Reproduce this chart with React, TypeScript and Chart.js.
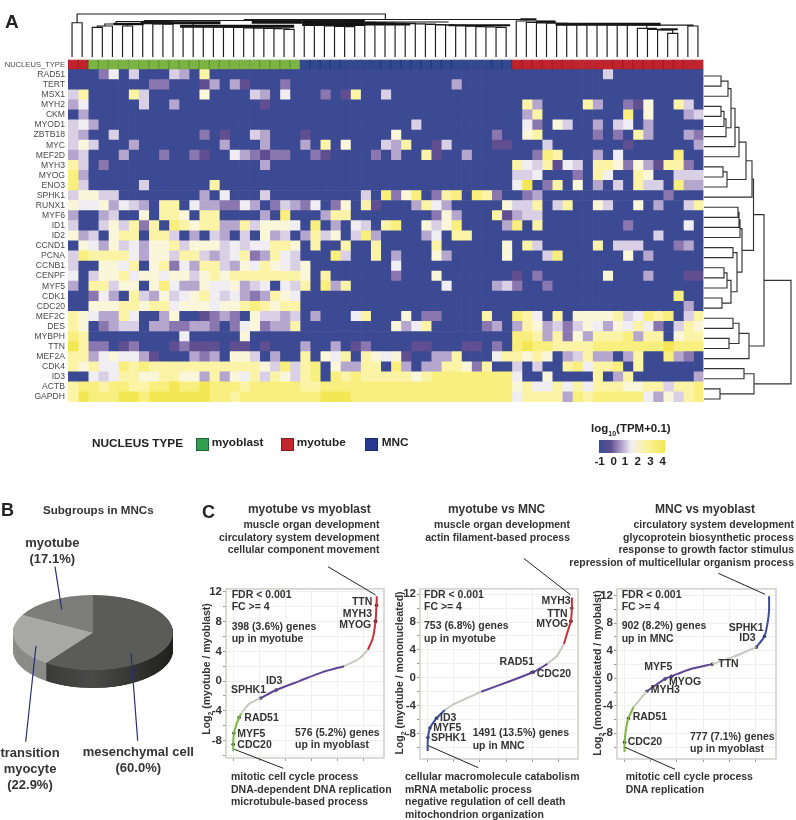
import React, { useEffect, useRef } from "react";
import { Chart, registerables } from "chart.js";
Chart.register(...registerables);

const FONT = "'Liberation Sans', Arial, sans-serif";

const genes = ["RAD51","TERT","MSX1","MYH2","CKM","MYOD1","ZBTB18","MYC","MEF2D","MYH3","MYOG","ENO3","SPHK1","RUNX1","MYF6","ID1","ID2","CCND1","PCNA","CCNB1","CENPF","MYF5","CDK1","CDC20","MEF2C","DES","MYBPH","TTN","MEF2A","CDK4","ID3","ACTB","GAPDH"];

// one string per gene, one digit per nucleus: colour level of log10(TPM+0.1)
const heatLevels = [
  "0002504000 4307000000 0000000000 0000000000 0000000000 0004000000 000",
  "0000000022 0001303100 0200000000 0000000030 0000000000 0000000000 000",
  "4700007400 0006000043 0500020170 0400000000 0000000000 0000000000 000",
  "3500000400 3000000001 0000000000 0000000000 0000073000 0730021600 740",
  "0300000000 0000000000 0000000000 0000000000 0000037000 0000080600 034",
  "4530000000 0000000000 0000000000 0000400000 0000052064 0030450300 000",
  "4300400000 0002010043 0001000000 0060000000 0020067000 0020207300 032",
  "4640003000 0000030003 0003070600 0437001400 0011000400 0000010000 003",
  "3400030002 0021005321 2200210000 2030071003 0000002870 0030500000 800",
  "7402000000 0000000003 0000000000 0000000000 0000754715 4077626317 720",
  "8300000000 0000000000 0000000000 0000000000 0000445000 2075007600 444",
  "8400000400 0000700000 0000000000 0000000000 0000590270 6030407440 833",
  "4664400000 0003050004 0000000004 0826802780 8720023000 0000000002 000",
  "6556354307 7053322530 2432502607 1000375300 0006447047 0064006030 047",
  "3003400607 7607700003 0800037700 0000002630 0071344000 0000000000 000",
  "4004647270 8767733746 6650803054 0780064680 0003807000 0000020000 050",
  "6340677077 4030430406 3403746048 3000035077 0000000000 0000000040 000",
  "0653645366 7466645455 7760700700 7000007000 0006074000 0070444000 230",
  "4877775366 4774345723 7540008400 7030006300 0006000480 0000060300 000",
  "4006657067 2537743657 6546000000 0050000000 0000000000 0000000000 000",
  "5046675665 6646767777 7776070000 0020006000 0000102000 0006000300 011",
  "3077466068 5336556345 0547083700 0000000500 0034200200 0000000000 000",
  "0025307436 4567545323 7650000000 0000000000 0000000000 0000000000 800",
  "0066677677 5666566787 6770000000 0000000000 0000000000 0000000000 030",
  "7653375003 6001232064 4340300057 0006022000 0700875070 6666745878 047",
  "7602344033 2233202562 3370000000 0063570000 0230376342 4653657520 476",
  "8700000000 0500000600 0000000000 0000000000 0000887372 6377783770 677",
  "9722012000 1211101101 0003003012 0000110001 1020898877 7788888889 888",
  "7735655310 0032306640 3007065707 6561003370 0057767603 4733037008 320",
  "7675587877 7777777776 4847806337 7083033776 2700404007 8577807000 000",
  "0054577667 7663736574 7647808787 7777678888 8888500600 0070370000 003",
  "7887887788 9889888788 8887788888 8888888888 8888675575 7577766774 778",
  "7988899899 9999887888 8888899988 8888888888 8888577773 8788888536 478",
];
const heatPalette = ["#3B4A92","#5F4F91","#8B77B0","#B5A6CE","#D9D0E6","#F0EDF3","#FAF6DA","#FBF3A6","#F8EF7E","#F3E753"];

const nucleusGroups = [["myotube",2],["myoblast",21],["MNC",21],["myotube",19]];
const nucleusColors = { myotube: "#C0232B", myoblast: "#7DB342", MNC: "#33478F" };
const nucleusEdges = { myotube: "#A41F27", myoblast: "#5F9A3A", MNC: "#283A7C" };

// dendrograms: [height, left, right]; a plain number is a leaf index
const topTree = [43,
  [34.3, 0, 1],
  [37.5,
    [36.5,
      [35.5,
        [33, [31, [29.7, 2, 3], 4], [31, 5, 6]],
        [34.7,
          [33.5, 7, [33, 8, [32.8, 9, 10]]],
          [31, 11, [30.8, 12, [30.4, 13, [30.1, 14, [29.8, 15, [29.5, 16, [29.2, 17, [28.9, 18, [28.6, 19, [28.3, 20, [27.7, 21, 22]]]]]]]]]]],
        ],
      ],
      [34.6,
        [33, 23, [31.5, 24, [31, 25, [30.7, 26, [30.4, 27, 28]]]]],
        [34.4, 29, [34.2, 30, [33.9, 31, [33.6, 32, [33.3, 33, [33, 34, [32.5, 35, [32.2, 36, [31.8, 37, [31.3, 38, [30.8, 39, [30.3, 40, [30, 41, [29.7, 42, 43]]]]]]]]]]]]]],
      ],
    ],
    [36, 44, [34.5, 45, [34, 46, [33.8, 47, [33.5, 48, [33.2, 49, [33, 50, [32.8, 51, [32.6, 52, [32.4, 53, [32.2, 54, [32, 55,
      [31.9, [28.7, 56, [27.7, 57, [27, 58, [23.7, 59, 60]]]], [31, 61, 62]]
    ]]]]]]]]]]]],
  ],
];
// the dense, merged merge-bars of the column tree: [from, to, height, thickness, colour]
const topBands = [
  [4.6, 7.6, 33, 2.5, "#111"],
  [7.3, 15.2, 34.3, 3, "#111"],
  [11.2, 22.5, 30.7, 3, "#111"],
  [18.3, 23.3, 35, 3.5, "#111"],
  [23.3, 29.5, 34.3, 6.5, "#111"],
  [29.5, 37.8, 35, 2, "#888"],
  [29.5, 34, 33, 3, "#111"],
  [37.8, 43.9, 31.7, 2, "#111"],
  [44.9, 46.5, 37.7, 2, "#111"],
  [46.5, 48.4, 35.3, 2.5, "#111"],
  [48.4, 58.8, 32.7, 3, "#111"],
  [58.8, 60.5, 27.7, 2, "#111"],
];
const rowTree = [87,
  [60,
    [49.5,
      [48,
        [42,
          [35, [31, [27, [24, [17, 0, 1], 2], [22, [20, [17, 3, 4], 5], 6]], 7], 8],
          [23, [19, 9, 10], 11],
        ],
        12,
      ],
      [38,
        [36, [35, [34, 13, 14], 15], 16],
        [33, [29, 17, 18], [27, [23, [20, 19, 20], 21], [18, 22, 23]]],
      ],
    ],
    [45, [35, [29, 24, 25], [25, 26, 27]], 28],
  ],
  [50, [40, 29, 30], [16, 31, 32]],
];

const pieLabels = ["mesenchymal cell", "transition myocyte", "myotube"];
const pieValues = [60.0, 22.9, 17.1];
const pieColors = ["#5B5B57", "#A8A8A4", "#7C7C78"];
const grey = "#C9C8C3", green = "#7CB544", purple = "#5E4596", red = "#C4313A", blue = "#3B4C9E";

// ranked fold-change curves: [rank, log2 ratio]
const c1Green = [[0,-9.4],[0,-8.5],[50,-7],[250,-5.8],[450,-4.9],[600,-4.4]];
const c1GreyA = [[600,-4.4],[890,-3.7],[1270,-3],[2076,-2.3]];
const c1Purple = [[2076,-2.3],[3290,-1.2],[5060,0],[6835,1.2],[8480,2]];
const c1GreyB = [[8480,2],[9620,3],[10300,4.2]];
const c1Red = [[10300,4.2],[10680,5.8],[10885,8],[10960,10.2],[10985,11.4]];
const c1Genes = [[0,-8.5],[50,-7],[450,-4.9],[2076,-2.3],[3290,-1.2],[10885,8],[10890,8.1],[10960,10.2]];

const c2Blue = [[0,-10.5],[0,-9.7],[25,-8.55],[175,-7.2],[680,-5.8],[1316,-4.6]];
const c2GreyA = [[1316,-4.6],[2075,-3.7],[4100,-2]];
const c2Purple = [[4100,-2],[6125,-0.6],[8100,0.83],[9165,2]];
const c2GreyB = [[9165,2],[9925,3.2],[10430,4.85]];
const c2Red = [[10430,4.85],[10810,7.2],[10965,8.1],[11040,10],[11040,11.5]];
const c2Genes = [[25,-8.55],[175,-7.2],[680,-5.8],[8100,0.83],[7950,0.75],[10965,8.1],[10965,8.15],[11040,10]];

const c3Green = [[0,-10.7],[0,-9.3],[125,-7.2],[300,-5.8],[680,-4.2]];
const c3GreyA = [[680,-4.2],[1700,-1.9]];
const c3Purple = [[1700,-1.9],[3090,-0.1],[3600,0.3],[5000,1.3],[6700,2.05]];
const c3GreyB = [[6700,2.05],[8285,3.1],[10060,4.5]];
const c3Blue = [[10060,4.5],[10690,6.1],[10940,8.2],[11040,9.9],[11040,11.9]];
const c3Genes = [[0,-9.3],[300,-5.8],[1700,-1.9],[3090,-0.1],[3600,0.3],[6700,2.05],[10060,4.5],[10690,6.1]];

const yTickValues = [-10,-8,-6,-4,-2,0,2,4,6,8,10,12];
const xTickValues = [0,2000,4000,6000,8000,10000];

function ChartCanvas({ config, left, top, width, height, style }: any) {
  const ref = useRef<HTMLCanvasElement>(null);
  useEffect(() => {
    const ch = new Chart(ref.current as any, config());
    return () => ch.destroy();
  }, []);
  return <canvas ref={ref} width={width} height={height} style={{ position: "absolute", left, top, width, height, display: "block", ...style }} />;
}

function heatConfig() {
  const rows = heatLevels.map((s) => s.replace(/ /g, "").split("").map(Number));
  const nuc: string[] = [];
  nucleusGroups.forEach(([n, c]: any) => { for (let i = 0; i < c; i++) nuc.push(n); });
  const labels = ["NUCLEUS_TYPE", ...genes];
  const datasets = nuc.map((n, c) => {
    const cols = rows.map((r) => heatPalette[r[c]]);
    return {
      data: labels.map(() => 1),
      backgroundColor: [nucleusColors[n], ...cols],
      borderColor: [nucleusEdges[n], ...cols],
      borderWidth: [1, ...rows.map(() => 0)],
      borderSkipped: false,
      barPercentage: 1,
      categoryPercentage: 1,
    };
  });
  return {
    type: "bar",
    data: { labels, datasets },
    options: {
      indexAxis: "y",
      responsive: false,
      animation: false,
      layout: { padding: { top: 59.5, right: 92.5, bottom: 18, left: 0 } },
      plugins: { legend: { display: false }, tooltip: { enabled: false } },
      scales: {
        x: { stacked: true, min: 0, max: 63, display: false },
        y: {
          stacked: true,
          grid: { display: false, drawTicks: false },
          border: { display: false },
          afterFit: (a: any) => { a.width = 68; },
          ticks: {
            autoSkip: false,
            padding: 3,
            color: "#4A4A4A",
            font: (ctx: any) => ({ family: FONT, size: ctx.index === 0 ? 7.6 : 8.6 }),
          },
        },
      },
    },
  };
}

function treeSegments(tree: any, leafOffset: number, swap: boolean) {
  const pts: any[] = [];
  const add = (pos: number, h: number) => pts.push(swap ? { x: h, y: pos } : { x: pos, y: h });
  const walk = (n: any): any => {
    if (typeof n === "number") return { pos: n + leafOffset, h: 0 };
    const a = walk(n[1]), b = walk(n[2]), h = n[0];
    add(a.pos, a.h); add(a.pos, h); add(b.pos, h); add(b.pos, b.h);
    pts.push({ x: NaN, y: NaN });
    return { pos: (a.pos + b.pos) / 2, h };
  };
  walk(tree);
  return pts;
}

function treeConfig(tree: any, leafOffset: number, swap: boolean, xr: number[], yr: number[], reverseY: boolean, color: string, bands: any[]) {
  return () => ({
    type: "scatter",
    data: {
      datasets: [
        { data: treeSegments(tree, leafOffset, swap), showLine: true, spanGaps: false, borderColor: color, borderWidth: 1.15, pointRadius: 0, clip: false },
        ...bands.map(([a, b, h, w, c]: any) => ({ data: [{ x: a, y: h }, { x: b, y: h }], showLine: true, borderColor: c, borderWidth: w, pointRadius: 0, clip: false })),
      ],
    },
    options: {
      responsive: false, animation: false,
      layout: { padding: 0 },
      plugins: { legend: { display: false }, tooltip: { enabled: false } },
      scales: {
        x: { type: "linear", min: xr[0], max: xr[1], display: false },
        y: { type: "linear", min: yr[0], max: yr[1], reverse: reverseY, display: false },
      },
    },
  });
}

function pieConfig() {
  const depth = 38;
  const sidePlugin = {
    id: "pieSide",
    beforeDatasetsDraw(chart: any) {
      const { ctx } = chart;
      const arcs = chart.getDatasetMeta(0).data;
      const a0 = arcs[0];
      const g = ctx.createLinearGradient(a0.x - a0.outerRadius, 0, a0.x + a0.outerRadius, 0);
      g.addColorStop(0, "#2E2E2C"); g.addColorStop(0.5, "#4A4A47"); g.addColorStop(0.85, "#2C2C2A"); g.addColorStop(1, "#1F1F1E");
      const sides = [g, "#8B8B87", "#5F5F5C"];
      ctx.save();
      for (let d = depth; d >= 1; d--) {
        arcs.forEach((arc: any, i: number) => {
          ctx.beginPath();
          ctx.moveTo(arc.x, arc.y + d);
          ctx.arc(arc.x, arc.y + d, arc.outerRadius, arc.startAngle, arc.endAngle);
          ctx.closePath();
          ctx.fillStyle = sides[i];
          ctx.fill();
        });
      }
      ctx.restore();
    },
  };
  return {
    type: "pie",
    data: { labels: pieLabels, datasets: [{ data: pieValues, backgroundColor: pieColors, borderWidth: 0 }] },
    options: {
      responsive: false, animation: false,
      layout: { padding: { bottom: 80 } },
      plugins: { legend: { display: false }, tooltip: { enabled: false } },
    },
    plugins: [sidePlugin],
  };
}

function curveConfig(segs: any[], pts: any[], xr: number[], yr: number[]) {
  return () => {
    const boxPlugin = {
      id: "box",
      afterDatasetsDraw(chart: any) {
        const { ctx, chartArea: c } = chart;
        ctx.save();
        ctx.strokeStyle = "#CFCEC9";
        ctx.lineWidth = 1.5;
        ctx.strokeRect(c.left, c.top, c.right - c.left, c.bottom - c.top);
        ctx.restore();
      },
    };
    return {
      type: "scatter",
      data: {
        datasets: [
          ...segs.map(([d, col]: any) => ({
            data: d.map(([x, y]: number[]) => ({ x, y })),
            showLine: true, borderColor: col, borderWidth: 2, tension: 0.25, pointRadius: 0,
          })),
          { data: pts.map(([x, y]: number[]) => ({ x, y })), showLine: false, pointRadius: 1.7, pointBackgroundColor: "#111", pointBorderWidth: 0 },
        ],
      },
      options: {
        responsive: false, animation: false,
        layout: { padding: { top: 2, right: 3, left: 0, bottom: 0 } },
        plugins: { legend: { display: false }, tooltip: { enabled: false } },
        scales: {
          x: {
            type: "linear", min: xr[0], max: xr[1],
            afterBuildTicks: (a: any) => { a.ticks = xTickValues.map((value) => ({ value })); },
            afterFit: (a: any) => { a.height = 8; },
            grid: { color: "#F0F0EE", tickColor: "#999", tickLength: 3 },
            border: { display: false },
            ticks: { display: false },
          },
          y: {
            type: "linear", min: yr[0], max: yr[1],
            afterBuildTicks: (a: any) => { a.ticks = yTickValues.map((value) => ({ value })); },
            afterFit: (a: any) => { a.width = 24; },
            grid: { color: "#F0F0EE", tickColor: "#999", tickLength: 3 },
            border: { display: false },
            ticks: {
              autoSkip: false,
              padding: 1, color: "#333",
              font: { family: FONT, size: 11.5, weight: "bold" },
              callback: (v: number) => (v % 4 === 0 ? String(v) : ""),
            },
          },
        },
      },
      plugins: [boxPlugin],
    };
  };
}

function T({ x, y, a = "l", s = 10.5, w = "bold", c = "#333", children, style }: any) {
  const tx = a === "l" ? "0" : a === "r" ? "-100%" : "-50%";
  return (
    <div style={{ position: "absolute", left: x, top: y, transform: `translate(${tx},-50%)`, fontSize: s, fontWeight: w, color: c, lineHeight: 1, whiteSpace: "nowrap", ...style }}>
      {children}
    </div>
  );
}
function YTitle({ x, y, children }: any) {
  return (
    <div style={{ position: "absolute", left: x, top: y, transform: "translate(-50%,-50%) rotate(-90deg)", fontSize: 10.5, fontWeight: "bold", color: "#333", lineHeight: 1, whiteSpace: "nowrap" }}>
      Log<sub style={{ fontSize: 7, lineHeight: 0 }}>2</sub> {children}
    </div>
  );
}

const leaders = [
  [328, 566.7, 375.7, 595], [234.3, 749.3, 283.3, 768.3],
  [523.7, 558.3, 570.7, 595], [428.3, 745.7, 478.3, 767.7],
  [718.3, 573.3, 765, 594.3], [625, 747.3, 675, 769.3],
];
const pieLeaders = [[55, 566.7, 61.7, 609.3], [36, 645.7, 25.7, 741.7], [131, 653.3, 137.7, 740.7]];

function Labels() {
  const rows1 = [["FDR < 0.001", 593.5], ["FC >= 4", 606]];
  return (
    <>
      <T x={5} y={21} s={19} c="#222">A</T>
      <T x={1} y={510} s={18} c="#222">B</T>
      <T x={202} y={511.5} s={18} c="#222">C</T>

      <T x={92} y={443.5} s={11.8} c="#222">NUCLEUS TYPE</T>
      <div style={{ position: "absolute", left: 195.5, top: 438, width: 11, height: 10.5, background: "#2F9E4F", border: "1px solid #24643A" }} />
      <T x={211.7} y={442.5} s={11.8} c="#222">myoblast</T>
      <div style={{ position: "absolute", left: 281, top: 438, width: 11, height: 10.5, background: "#C2272D", border: "1px solid #7A1E22" }} />
      <T x={296.7} y={442.5} s={11.8} c="#222">myotube</T>
      <div style={{ position: "absolute", left: 364.5, top: 438, width: 11, height: 10.5, background: "#27398F", border: "1px solid #1C2A66" }} />
      <T x={381.7} y={442.5} s={11.8} c="#222">MNC</T>

      <T x={591} y={429} s={11.5} c="#222">log<sub style={{ fontSize: 7, lineHeight: 0 }}>10</sub>(TPM+0.1)</T>
      <div style={{ position: "absolute", left: 599, top: 439.5, width: 65.5, height: 13, background: "linear-gradient(to right,#3B4A92 0%,#5F4F91 18%,#B5A6CE 35%,#F0EDF3 48%,#FBF3A6 70%,#F3E753 100%)" }} />
      {[["-1", 599.5], ["0", 613.7], ["1", 625], ["2", 637.6], ["3", 650.4], ["4", 662.6]].map(([t, x]: any) => (
        <T key={t} x={x} y={461.7} a="c" s={11.5} c="#222">{t}</T>
      ))}

      <T x={98.3} y={510} a="c" s={11.6}>Subgroups in MNCs</T>
      <T x={52.3} y={541.7} a="c" s={13}>myotube</T>
      <T x={52.3} y={557.7} a="c" s={13}>(17.1%)</T>
      <T x={30} y={751.7} a="c" s={13}>transition</T>
      <T x={30} y={767.7} a="c" s={13}>myocyte</T>
      <T x={30} y={784} a="c" s={13}>(22.9%)</T>
      <T x={138.3} y={750.7} a="c" s={13}>mesenchymal cell</T>
      <T x={138.3} y={766.7} a="c" s={13}>(60.0%)</T>

      <T x={309.3} y={509} a="c" s={12}>myotube vs myoblast</T>
      <T x={379.4} y={524} a="r">muscle organ development</T>
      <T x={379.4} y={536.7} a="r">circulatory system development</T>
      <T x={379.4} y={549.3} a="r">cellular component movement</T>

      <T x={496.6} y={509} a="c" s={12}>myotube vs MNC</T>
      <T x={570} y={524} a="r">muscle organ development</T>
      <T x={570} y={536.7} a="r">actin filament-based process</T>

      <T x={705} y={509} a="c" s={12}>MNC vs myoblast</T>
      <T x={794} y={524} a="r">circulatory system development</T>
      <T x={794} y={536.7} a="r">glycoprotein biosynthetic process</T>
      <T x={794} y={549.3} a="r">response to growth factor stimulus</T>
      <T x={794} y={562} a="r">repression of multicellular organism process</T>

      <YTitle x={206} y={669.3}>(myotube / myoblast)</YTitle>
      <YTitle x={399} y={673.3}>(myotube / mononucleated)</YTitle>
      <YTitle x={597.3} y={673.3}>(mononucleated / myobalst)</YTitle>

      {[231.7, 424, 621.7].map((x) => rows1.map(([t, y]: any) => <T key={x + t} x={x} y={y}>{t}</T>))}
      <T x={231.7} y={625.5}>398 (3.6%) genes</T>
      <T x={231.7} y={638}>up in myotube</T>
      <T x={424} y={625.3}>753 (6.8%) genes</T>
      <T x={424} y={638.3}>up in myotube</T>
      <T x={621.7} y={625.3}>902 (8.2%) genes</T>
      <T x={621.7} y={638}>up in MNC</T>

      <T x={295} y={732}>576 (5.2%) genes</T>
      <T x={295} y={744.3}>up in myoblast</T>
      <T x={472.7} y={732}>1491 (13.5%) genes</T>
      <T x={472.7} y={744.7}>up in MNC</T>
      <T x={690} y={735.7}>777 (7.1%) genes</T>
      <T x={690} y={748.3}>up in myoblast</T>

      <T x={372.3} y={601.3} a="r">TTN</T>
      <T x={372} y={613.3} a="r">MYH3</T>
      <T x={371.3} y={624.3} a="r">MYOG</T>
      <T x={266} y={680}>ID3</T>
      <T x={231} y={689.3}>SPHK1</T>
      <T x={244.3} y={716.7}>RAD51</T>
      <T x={237.3} y={732.7}>MYF5</T>
      <T x={237.3} y={743.7}>CDC20</T>

      <T x={570.7} y={600} a="r">MYH3</T>
      <T x={567.7} y={613.3} a="r">TTN</T>
      <T x={568.3} y={622.7} a="r">MYOG</T>
      <T x={534} y={661.3} a="r">RAD51</T>
      <T x={536.7} y={673}>CDC20</T>
      <T x={440} y={716.7}>ID3</T>
      <T x={433.3} y={727.3}>MYF5</T>
      <T x={431} y={736.7}>SPHK1</T>

      <T x={763.7} y={626.7} a="r">SPHK1</T>
      <T x={755.7} y={637.3} a="r">ID3</T>
      <T x={718.3} y={663.3}>TTN</T>
      <T x={672.3} y={666} a="r">MYF5</T>
      <T x={669} y={680.7}>MYOG</T>
      <T x={650.7} y={689.3}>MYH3</T>
      <T x={632.7} y={715.7}>RAD51</T>
      <T x={627.7} y={740.7}>CDC20</T>

      <T x={231} y={776}>mitotic cell cycle process</T>
      <T x={231} y={788.7}>DNA-dependent DNA replication</T>
      <T x={231} y={801.3}>microtubule-based process</T>
      <T x={405} y={776}>cellular macromolecule catabolism</T>
      <T x={405} y={788.7}>mRNA metabolic process</T>
      <T x={405} y={801.3}>negative regulation of cell death</T>
      <T x={405} y={814}>mitochondrion organization</T>
      <T x={625.7} y={776}>mitotic cell cycle process</T>
      <T x={625.7} y={788.7}>DNA replication</T>
    </>
  );
}

export default function App() {
  const c1 = curveConfig([[c1Green, green], [c1GreyA, grey], [c1Purple, purple], [c1GreyB, grey], [c1Red, red]], c1Genes, [-555, 11536], [-10.35, 12.4]);
  const c2 = curveConfig([[c2Blue, blue], [c2GreyA, grey], [c2Purple, purple], [c2GreyB, grey], [c2Red, red]], c2Genes, [-585, 11510], [-11.64, 12.75]);
  const c3 = curveConfig([[c3Green, green], [c3GreyA, grey], [c3Purple, purple], [c3GreyB, grey], [c3Blue, blue]], c3Genes, [-577, 11570], [-11.73, 12.98]);
  return (
    <div style={{ position: "absolute", left: 0, top: 0, width: 796, height: 820, overflow: "hidden", background: "#fff", fontFamily: FONT }}>
      <ChartCanvas config={heatConfig} left={0} top={0} width={796} height={420} />
      <ChartCanvas config={treeConfig(topTree, 0.5, false, [0, 63], [0, 45], false, "#1A1A1A", topBands)} left={67} top={12} width={636} height={45} />
      <ChartCanvas config={treeConfig(rowTree, 0, true, [0, 92], [-0.5, 32.5], true, "#333", [])} left={704} top={70.65} width={92} height={333.6} />
      <ChartCanvas config={pieConfig} left={13} top={595} width={160} height={240} style={{ transform: "scaleY(0.47)", transformOrigin: "top left" }} />
      <ChartCanvas config={c1} left={202} top={581} width={186} height={185} />
      <ChartCanvas config={c2} left={396} top={581} width={186} height={186} />
      <ChartCanvas config={c3} left={593} top={581} width={187} height={186} />
      <svg width={796} height={820} style={{ position: "absolute", left: 0, top: 0, pointerEvents: "none" }}>
        {leaders.map((l, i) => <line key={i} x1={l[0]} y1={l[1]} x2={l[2]} y2={l[3]} stroke="#222" strokeWidth={1} />)}
        {pieLeaders.map((l, i) => <line key={i} x1={l[0]} y1={l[1]} x2={l[2]} y2={l[3]} stroke="#2A2F78" strokeWidth={1.2} />)}
      </svg>
      <Labels />
    </div>
  );
}
